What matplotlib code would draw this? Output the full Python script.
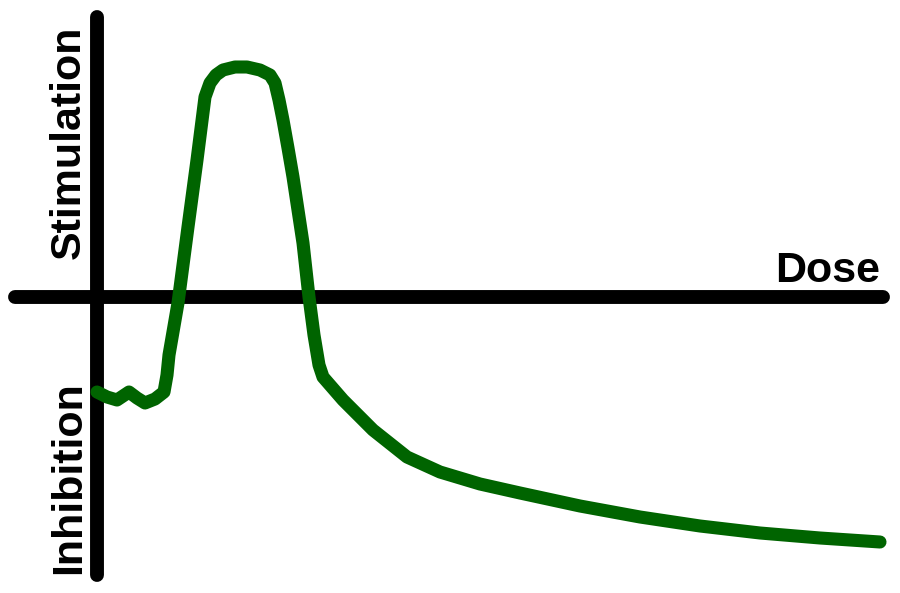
import matplotlib
matplotlib.use("Agg")
import matplotlib.pyplot as plt

# hormesis-style dose response
# dose: arbitrary units to the right of the vertical axis
# reponse: positive = stimulation, negative = inhibition
dose = [0, 10, 20, 26, 32, 40, 48, 58, 67, 70, 72, 81, 91, 100, 108, 113,
        119, 126, 138, 150, 163, 173, 178, 182, 186, 191, 196, 201, 206, 212,
        217, 222, 226, 246, 276, 310, 343, 383, 423, 483, 543, 603, 663, 723,
        783]
reponse = [-95, -100, -103, -99, -95, -101, -106, -102, -95, -78, -58,
           -6, 70, 137, 200, 214, 222, 227, 230, 230, 227, 222, 214, 197, 177,
           149, 120, 87, 54, 0, -38, -68, -80, -103, -133, -160, -175, -187,
           -196, -209, -220, -229, -236, -241, -245]

# ends of the two drawn axes
axe_x = [-82, 786]
axe_y = [280, -278]

plt.rcParams['font.family'] = ['Liberation Sans', 'DejaVu Sans']

fig = plt.figure(figsize=(9, 5.93), dpi=100)
ax = fig.add_axes([0, 0, 1, 1])
ax.set_xlim(-97, 803)
ax.set_ylim(-296, 297)
ax.axis('off')

ax.plot(axe_x, [0, 0], color='black', lw=10, solid_capstyle='round')
ax.plot([0, 0], axe_y, color='black', lw=10, solid_capstyle='round')
ax.plot(dose, reponse, color='#006400', lw=9.4, solid_capstyle='round',
        solid_joinstyle='round')

ax.text(-28, 155, 'Stimulation', rotation=90, ha='center', va='center',
        fontsize=31, fontweight='bold')
ax.text(-28, -181, 'Inhibition', rotation=90, ha='center', va='center',
        fontsize=31, fontweight='bold')
ax.text(783, 15, 'Dose', ha='right', va='baseline', fontsize=31,
        fontweight='bold')

fig.savefig('out.png', dpi=100)
